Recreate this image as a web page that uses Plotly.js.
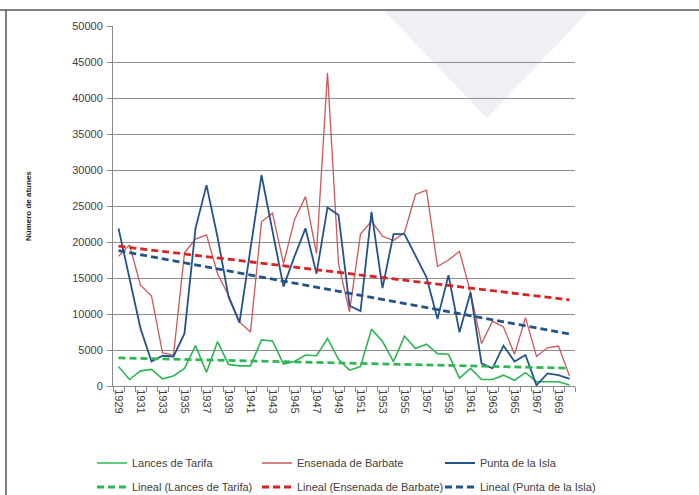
<!DOCTYPE html>
<html>
<head>
<meta charset="utf-8">
<script src="https://cdn.plot.ly/plotly-3.0.1.min.js"></script>
<style>html,body{margin:0;padding:0;background:#fff}#chart{width:699px;height:495px}</style>
</head>
<body>
<div id="chart"></div>
<script>
var years = [];
for (var y = 1929; y <= 1970; y++) years.push(y);

var lancesTarifa = [2700, 900, 2100, 2300, 1000, 1400, 2450, 5600, 1900, 6150,
  3000, 2800, 2800, 6400, 6250, 3050, 3400, 4300, 4200, 6600,
  3700, 2200, 2700, 7900, 6200, 3400, 6900, 5200, 5800, 4500,
  4400, 1100, 2450, 900, 900, 1500, 800, 1850, 600, 600,
  600, 150];
var ensenadaBarbate = [18000, 19600, 14000, 12500, 4600, 4300, 18500, 20400, 21000, 15600,
  12600, 8900, 7500, 22800, 24000, 17000, 23100, 26300, 18400, 43500,
  17000, 10300, 21100, 22900, 20800, 20200, 21300, 26600, 27200, 16600,
  17500, 18700, 13000, 5900, 9000, 8200, 4400, 9500, 4100, 5300,
  5550, 1400];
var puntaIsla = [21900, 15000, 8000, 3400, 4200, 4100, 7300, 21900, 27900, 20700,
  12400, 8800, 19000, 29300, 21500, 13800, 18000, 21900, 15600, 24800,
  23750, 11150, 10400, 24200, 13600, 21100, 21100, 18000, 15100, 9300,
  15400, 7450, 13000, 3150, 2450, 5600, 3400, 4300, 100, 1750,
  1500, 1000];

var seriesNames = ['Lances de Tarifa', 'Ensenada de Barbate', 'Punta de la Isla'];
var trendNames = ['Lineal (Lances de Tarifa)', 'Lineal (Ensenada de Barbate)', 'Lineal (Punta de la Isla)'];
var yTickVals = [0, 5000, 10000, 15000, 20000, 25000, 30000, 35000, 40000, 45000, 50000];
var yTitle = 'Número de atunes';

// least-squares linear trend (like Excel "Lineal")
function linearTrend(xs, ys) {
  var n = xs.length, sx = 0, sy = 0, sxy = 0, sxx = 0;
  for (var i = 0; i < n; i++) { sx += xs[i]; sy += ys[i]; sxy += xs[i] * ys[i]; sxx += xs[i] * xs[i]; }
  var b = (n * sxy - sx * sy) / (n * sxx - sx * sx);
  var a = (sy - b * sx) / n;
  return xs.map(function (x) { return a + b * x; });
}

var colors = ['#2fb553', '#c9595a', '#24538a'];
var trendColors = ['#2fb553', '#d42426', '#24538a'];
var widths = [1.6, 1.3, 1.8];
var data = [lancesTarifa, ensenadaBarbate, puntaIsla];

var legendIds = [['legend', 'legend2', 'legend3'], ['legend4', 'legend5', 'legend6']];

var traces = [];
for (var k = 0; k < 3; k++) {
  traces.push({x: years, y: data[k], type: 'scatter', mode: 'lines', name: seriesNames[k],
    legend: legendIds[0][k], line: {color: colors[k], width: widths[k]}});
}
for (var k = 0; k < 3; k++) {
  traces.push({x: years, y: linearTrend(years, data[k]), type: 'scatter', mode: 'lines', name: trendNames[k],
    legend: legendIds[1][k], line: {color: trendColors[k], width: 2.8, dash: '7px,4px'}});
}

var legendFont = {family: 'Liberation Sans, Arial, sans-serif', size: 11, color: '#404040'};
function px2x(px) { return (px - 113) / 462; }
function py2y(py) { return (386 - py) / 360; }

var layout = {
  width: 699, height: 495,
  margin: {l: 113, r: 124, t: 26, b: 109, autoexpand: false},
  paper_bgcolor: '#ffffff', plot_bgcolor: 'rgba(0,0,0,0)',
  font: {family: 'Liberation Sans, Arial, sans-serif', size: 11, color: '#404040'},
  showlegend: true,
  xaxis: {
    type: 'linear', range: [1928.5, 1970.5], tick0: 1929, dtick: 2, automargin: false,
    tickangle: 90, ticks: '', showgrid: false, zeroline: false,
    showline: true, linecolor: '#8a8a8a', linewidth: 1,
    minor: {tick0: 1928.5, dtick: 1, ticks: 'outside', ticklen: 5, tickcolor: '#8a8a8a', showgrid: false},
    tickfont: {size: 11, color: '#404040'}, fixedrange: true
  },
  yaxis: {
    range: [0, 50000], tickvals: yTickVals, ticktext: yTickVals.map(String), automargin: false,
    ticks: 'outside', ticklen: 5, tickcolor: '#8a8a8a',
    showgrid: true, gridcolor: '#8f8f8f', gridwidth: 1, zeroline: false,
    showline: true, linecolor: '#8a8a8a', linewidth: 1,
    tickfont: {size: 11, color: '#404040'}, ticklabelstandoff: 2, fixedrange: true
  },
  annotations: [{
    text: yTitle, xref: 'paper', yref: 'paper', x: px2x(28), y: 0.5,
    xanchor: 'center', yanchor: 'middle', textangle: -90, showarrow: false,
    font: {family: 'Liberation Sans, Arial, sans-serif', size: 8, color: '#222', weight: 'bold'}
  }],
  shapes: [
    {type: 'path', xref: 'paper', yref: 'paper', layer: 'below',
      path: 'M ' + px2x(383) + ' ' + py2y(10) + ' L ' + px2x(590) + ' ' + py2y(10) +
        ' L ' + px2x(487) + ' ' + py2y(118) + ' Z',
      fillcolor: '#eef0f6', line: {width: 0}},
    {type: 'line', xref: 'paper', yref: 'paper', x0: px2x(0), x1: px2x(699),
      y0: py2y(10), y1: py2y(10), line: {color: '#555', width: 1.5}},
    {type: 'line', xref: 'paper', yref: 'paper', x0: px2x(6), x1: px2x(6),
      y0: py2y(10), y1: py2y(495), line: {color: '#555', width: 1.5}}
  ]
};

// legend grid: text starts (px) per column, row centres (px)
var legendTextX = [132, 297, 480];
var legendRowY = [463, 487];
for (var r = 0; r < 2; r++) {
  for (var c = 0; c < 3; c++) {
    layout[legendIds[r][c]] = {
      orientation: 'h', x: px2x(legendTextX[c] - 40), xanchor: 'left',
      y: py2y(legendRowY[r]), yanchor: 'middle',
      font: legendFont, bgcolor: 'rgba(0,0,0,0)', borderwidth: 0
    };
  }
}

Plotly.newPlot('chart', traces, layout, {displayModeBar: false, staticPlot: true});
</script>
</body>
</html>
